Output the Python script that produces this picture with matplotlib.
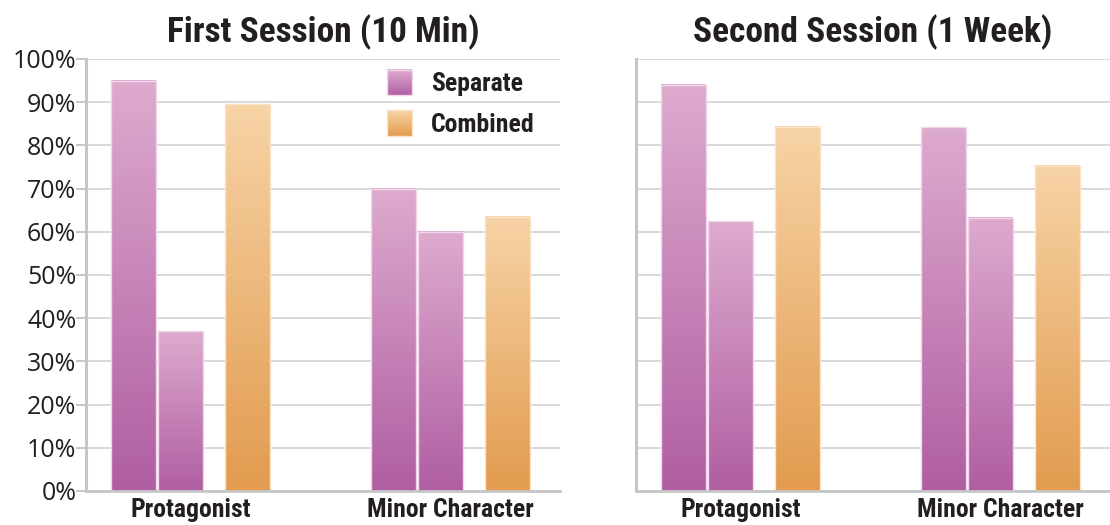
import numpy as np
import matplotlib
matplotlib.use("Agg")
import matplotlib.pyplot as plt
from matplotlib import font_manager
from matplotlib.font_manager import FontProperties
from matplotlib.colors import LinearSegmentedColormap, to_rgb
from matplotlib.patches import Rectangle
from matplotlib.legend_handler import HandlerBase

# ---- data -------------------------------------------------------------
sessions = ["First Session (10 Min)", "Second Session (1 Week)"]
categories = ["Protagonist", "Minor Character"]
series_labels = ["Separate", "Combined"]

# two "Separate" bars and one "Combined" bar per category (percent)
first_separate_a = [95, 70]
first_separate_b = [37, 60]
first_combined = [89.5, 63.5]

second_separate_a = [94, 84.2]
second_separate_b = [62.5, 63.3]
second_combined = [84.3, 75.3]

y_ticks = [0, 10, 20, 30, 40, 50, 60, 70, 80, 90, 100]
y_tick_labels = [f"{v}%" for v in y_ticks]

# ---- style ------------------------------------------------------------
PINK_TOP, PINK_BOTTOM = "#ddabce", "#b05ea2"
ORANGE_TOP, ORANGE_BOTTOM = "#f7d3a6", "#e29b4f"
PINK_EDGE, ORANGE_EDGE = "#f2d6ea", "#fbe3c6"
TEXT = "#231f20"
GRID = "#d9d9d9"
SPINE = "#c6c6c6"

fonts = font_manager.fontManager.ttflist
available = {f.name for f in fonts}
REG = "Open Sans" if "Open Sans" in available else "DejaVu Sans"


def _is_bold(f):
    w = f.weight
    if isinstance(w, str):
        return w in ("bold", "heavy", "extra bold", "black", "demibold", "semibold")
    return w >= 600


def _is_narrow(f):
    s = str(f.stretch)
    return ("condensed" in s or "narrow" in s or "Condensed" in f.name
            or "Narrow" in f.name or (s.isdigit() and int(s) < 500))


def condensed_bold_file():
    pref = ["Liberation Sans Narrow", "Roboto Condensed", "Open Sans Condensed",
            "Noto Sans", "Open Sans", "Roboto", "Noto Sans Display", "DejaVu Sans"]
    cands = [f for f in fonts if _is_bold(f) and _is_narrow(f)
             and "Italic" not in f.fname and f.style == "normal"]
    for fam in pref:
        for f in cands:
            if f.name.startswith(fam):
                return f.fname
    return cands[0].fname if cands else None


COND_FILE = condensed_bold_file()
# a wide fallback face is set smaller so the text keeps its width
SIZE_SCALE = 1.0 if COND_FILE else 0.82


def cond_font(size):
    if COND_FILE:
        return FontProperties(fname=COND_FILE, size=size)
    return FontProperties(family="Liberation Sans", weight="bold", size=size * SIZE_SCALE)


pink_cmap = LinearSegmentedColormap.from_list("pink", [PINK_BOTTOM, PINK_TOP])
orange_cmap = LinearSegmentedColormap.from_list("orange", [ORANGE_BOTTOM, ORANGE_TOP])
gradient = np.linspace(0, 1, 256).reshape(-1, 1)

BAR_W = 0.173
OFFSETS = [-0.219, -0.0385, 0.219]


def gradient_bars(ax, x, heights, cmap, edge):
    bars = ax.bar(x, heights, width=BAR_W, facecolor="none",
                  edgecolor=edge, linewidth=1.0, zorder=3)
    for b in bars:
        x0, y0 = b.get_x(), b.get_y()
        ax.imshow(gradient, cmap=cmap, origin="lower", aspect="auto",
                  extent=(x0, x0 + b.get_width(), y0, y0 + b.get_height()),
                  zorder=2, interpolation="bilinear")
    return bars


class GradientHandler(HandlerBase):
    def __init__(self, top, bottom, edge):
        super().__init__()
        self.top, self.bottom, self.edge = top, bottom, edge

    def create_artists(self, legend, orig_handle, xdescent, ydescent,
                       width, height, fontsize, trans):
        side = height
        x0 = -xdescent
        y0 = -ydescent
        n = 30
        top, bottom = np.array(to_rgb(self.top)), np.array(to_rgb(self.bottom))
        arts = []
        for i in range(n):
            c = bottom + (top - bottom) * (i + 0.5) / n
            arts.append(Rectangle((x0, y0 + side * i / n), side, side / n + 0.3,
                                  facecolor=c, edgecolor="none", transform=trans))
        arts.append(Rectangle((x0, y0), side, side, facecolor="none",
                              edgecolor=self.edge, linewidth=1.0, transform=trans))
        return arts


fig = plt.figure(figsize=(11.10, 5.25), dpi=100)
W, H = 1110, 525
bottom_px, top_px = 491, 59
axes_rects = [(86, 560), (636, 1110)]

data = [
    (first_separate_a, first_separate_b, first_combined),
    (second_separate_a, second_separate_b, second_combined),
]

x = np.arange(len(categories))
for i, ((left, right), title, (sa, sb, cb)) in enumerate(zip(axes_rects, sessions, data)):
    ax = fig.add_axes([left / W, 1 - bottom_px / H, (right - left) / W, (bottom_px - top_px) / H])
    gradient_bars(ax, x + OFFSETS[0], sa, pink_cmap, PINK_EDGE)
    gradient_bars(ax, x + OFFSETS[1], sb, pink_cmap, PINK_EDGE)
    gradient_bars(ax, x + OFFSETS[2], cb, orange_cmap, ORANGE_EDGE)

    ax.set_xlim(-0.402, 1.421)
    ax.set_ylim(0, 100)
    ax.set_yticks(y_ticks)
    ax.yaxis.grid(True, color=GRID, linewidth=1.4, zorder=0)
    ax.set_axisbelow(True)
    for s in ("top", "right"):
        ax.spines[s].set_visible(False)
    ax.spines["left"].set_color(SPINE)
    ax.spines["left"].set_linewidth(2.2)
    ax.spines["bottom"].set_color(SPINE)
    ax.spines["bottom"].set_linewidth(2.0)
    ax.spines["bottom"].set_zorder(4)

    ax.set_xticks(x)
    ax.set_xticklabels(categories, fontproperties=cond_font(18.5), color=TEXT)
    ax.tick_params(axis="x", length=0, pad=5)

    if i == 0:
        ax.set_yticklabels(y_tick_labels, fontfamily=REG, fontsize=18, color=TEXT)
        ax.tick_params(axis="y", length=7, width=1.4, color=SPINE, pad=0)
    else:
        ax.set_yticklabels([])
        ax.tick_params(axis="y", length=0)

    ax.set_title(title, fontproperties=cond_font(25.5), color=TEXT, pad=12)
    ax.set_facecolor("white")

    if i == 0:
        h_sep = Rectangle((0, 0), 1, 1)
        h_comb = Rectangle((0, 0), 1, 1)
        leg = ax.legend(
            [h_sep, h_comb], series_labels,
            handler_map={h_sep: GradientHandler(PINK_TOP, PINK_BOTTOM, PINK_EDGE),
                         h_comb: GradientHandler(ORANGE_TOP, ORANGE_BOTTOM, ORANGE_EDGE)},
            loc="upper left", bbox_to_anchor=(0.635, 0.975), frameon=False,
            prop=cond_font(18.5),
            handlelength=1.15, handleheight=1.15, handletextpad=0.55,
            labelspacing=0.55, borderpad=0, borderaxespad=0,
        )
        for t in leg.get_texts():
            t.set_color(TEXT)

fig.savefig("out.png", dpi=100, facecolor="white")
